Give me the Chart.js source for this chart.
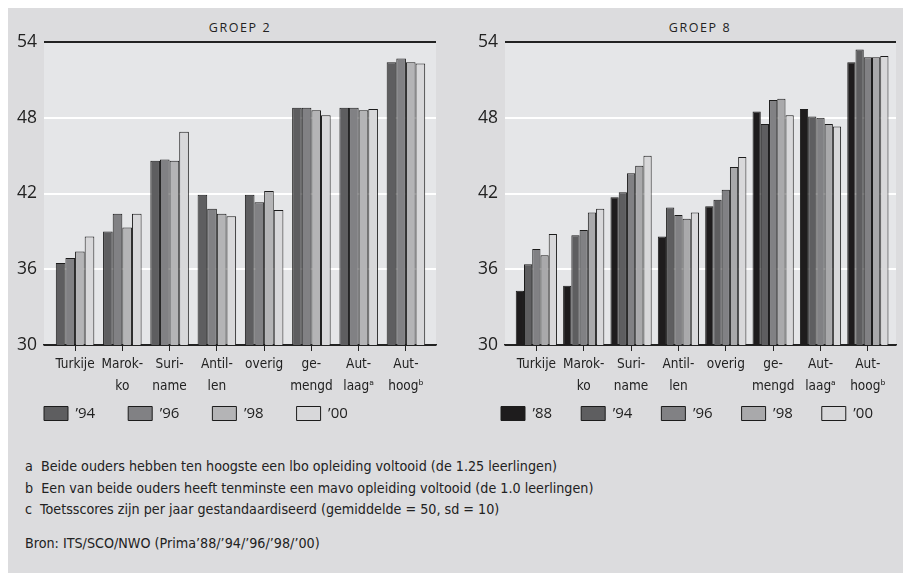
<!DOCTYPE html>
<html>
<head>
<meta charset="utf-8">
<script src="https://cdn.jsdelivr.net/npm/chart.js@4.4.1/dist/chart.umd.min.js"></script>
<style>
  body { margin: 0; background: #fff; width: 903px; height: 573px; overflow: hidden; position: relative; }
  #panel { position: absolute; left: 8px; top: 8px; width: 895px; height: 565px; background: #dcdcde; }
  .box { position: absolute; top: 20px; }
  .title { position: absolute; top: 19px; font: 12.5px "Open Sans", sans-serif; letter-spacing: 1.6px; color: #222; text-align: center; }
  .notes { position: absolute; left: 25px; top: 456px; font: 14.2px "Liberation Sans Narrow", "DejaVu Sans Condensed", sans-serif; color: #222; line-height: 21.5px; }
</style>
</head>
<body>
<div id="panel"></div>
<div class="title" style="left:44px;width:392px">GROEP 2</div>
<div class="title" style="left:504px;width:392px">GROEP 8</div>
<div class="box" style="left:9px;width:438px;height:433px"><canvas id="g2"></canvas></div>
<div class="box" style="left:450px;width:453px;height:429px"><canvas id="g8"></canvas></div>
<div class="notes">
  <div>a&nbsp; Beide ouders hebben ten hoogste een lbo opleiding voltooid (de 1.25 leerlingen)</div>
  <div>b&nbsp; Een van beide ouders heeft tenminste een mavo opleiding voltooid (de 1.0 leerlingen)</div>
  <div>c&nbsp; Toetsscores zijn per jaar gestandaardiseerd (gemiddelde = 50, sd = 10)</div>
  <div style="margin-top:12px">Bron: ITS/SCO/NWO (Prima’88/’94/’96/’98/’00)</div>
</div>
<script>
// categories (multi-line tick labels)
const categories = [
    ["Turkije"], ["Marok-", "ko"], ["Suri-", "name"], ["Antil-", "len"],
    ["overig"], ["ge-", "mengd"], ["Aut-", "laagᵃ"], ["Aut-", "hoogᵇ"]
];
const yTicks = [30, 36, 42, 48, 54];

// groep 2
const g2_94 = [36.5, 39.0, 44.6, 41.9, 41.9, 48.8, 48.8, 52.4];
const g2_96 = [36.9, 40.4, 44.7, 40.8, 41.3, 48.8, 48.8, 52.7];
const g2_98 = [37.4, 39.3, 44.6, 40.4, 42.2, 48.6, 48.6, 52.4];
const g2_00 = [38.6, 40.4, 46.9, 40.2, 40.7, 48.2, 48.7, 52.3];

// groep 8
const g8_88 = [34.3, 34.7, 41.7, 38.6, 41.0, 48.5, 48.7, 52.4];
const g8_94 = [36.4, 38.7, 42.1, 40.9, 41.5, 47.5, 48.1, 53.4];
const g8_96 = [37.6, 39.1, 43.6, 40.3, 42.3, 49.4, 48.0, 52.8];
const g8_98 = [37.1, 40.5, 44.2, 40.0, 44.1, 49.5, 47.5, 52.8];
const g8_00 = [38.8, 40.8, 45.0, 40.5, 44.9, 48.2, 47.3, 52.9];

const narrow = "'Liberation Sans Narrow', 'DejaVu Sans Condensed', sans-serif";
const humanist = "'Open Sans', sans-serif";

// light plot-area background
const plotBg = {
    id: 'plotBg',
    beforeDraw(chart) {
        const a = chart.chartArea, ctx = chart.ctx;
        ctx.save();
        ctx.fillStyle = '#e5e6e8';
        ctx.fillRect(a.left, a.top, a.right - a.left, a.bottom - a.top);
        ctx.restore();
    }
};

// nudge the legend box after layout (legend sits tight under the labels)
const legendShift = {
    id: 'legendShift',
    afterLayout(chart, args, o) {
        const lg = chart.legend;
        if (!lg) return;
        lg.left += o.dx; lg.right += o.dx;
        lg.top += o.dy; lg.bottom += o.dy;
    }
};

function ds(label, data, color) {
    return { label: label, data: data, backgroundColor: color, borderColor: '#1c1c1c', borderWidth: 1, borderSkipped: false };
}

function makeChart(id, datasets, opts) {
    return new Chart(document.getElementById(id), {
        type: 'bar',
        // numeric x positions so the groups can sit inset from the plot edges
        data: { labels: categories.map((c, i) => i), datasets: datasets },
        plugins: [plotBg, legendShift],
        options: {
            responsive: true,
            maintainAspectRatio: false,
            animation: false,
            categoryPercentage: opts.catPct,
            barPercentage: 1.0,
            layout: { padding: { left: opts.padLeft, right: opts.padRight, top: 22, bottom: 0 } },
            plugins: {
                tooltip: { enabled: false },
                legendShift: { dx: opts.legDx, dy: opts.legDy },
                legend: {
                    position: 'bottom',
                    align: 'start',
                    labels: {
                        boxWidth: 24, boxHeight: 14, padding: opts.legPad,
                        color: '#222', font: { family: humanist, size: 15 },
                        generateLabels(chart) {
                            return chart.data.datasets.map((d, i) => ({
                                text: d.label, fillStyle: d.backgroundColor, strokeStyle: '#1c1c1c',
                                lineWidth: 1, datasetIndex: i, fontColor: '#222'
                            }));
                        }
                    }
                }
            },
            scales: {
                x: {
                    type: 'linear',
                    min: opts.xMin, max: opts.xMax,
                    offset: false,
                    afterFit(s) { s.height = 50; },
                    afterBuildTicks(s) { s.ticks = categories.map((c, i) => ({ value: i })); },
                    border: { color: '#222', width: 1.5 },
                    grid: { drawOnChartArea: false, drawTicks: true, offset: false, tickLength: 6, color: '#222' },
                    ticks: {
                        color: '#222', padding: 2, maxRotation: 0, autoSkip: false,
                        callback: v => categories[v],
                        font: { family: narrow, size: 13.5, lineHeight: 1.65 }
                    }
                },
                y: {
                    min: 30, max: 54,
                    afterFit(s) { s.width = opts.yWidth; },
                    afterBuildTicks(s) { s.ticks = yTicks.map(v => ({ value: v })); },
                    border: { display: false },
                    grid: {
                        drawTicks: false,
                        lineWidth: 2,
                        color: c => (c.tick.value === 54 || c.tick.value === 30) ? '#222' : '#ffffff'
                    },
                    ticks: { color: '#222', padding: 7, font: { family: humanist, size: 17.5 } }
                }
            }
        }
    });
}

makeChart('g2', [
    ds('’94', g2_94, '#5e5e60'),
    ds('’96', g2_96, '#818184'),
    ds('’98', g2_98, '#b4b4b6'),
    ds('’00', g2_00, '#d8d8da')
], { catPct: 0.815, xMin: -0.657, xMax: 7.636, padLeft: 7, padRight: 11, yWidth: 28, legPad: 33, legDx: -5, legDy: -22 });

makeChart('g8', [
    ds('’88', g8_88, '#1e1c1d'),
    ds('’94', g8_94, '#5e5e60'),
    ds('’96', g8_96, '#818184'),
    ds('’98', g8_98, '#a9a9ab'),
    ds('’00', g8_00, '#d8d8da')
], { catPct: 0.87, xMin: -0.662, xMax: 7.594, padLeft: 15, padRight: 7, yWidth: 40, legPad: 29, legDx: 7, legDy: -18 });
</script>
</body>
</html>
